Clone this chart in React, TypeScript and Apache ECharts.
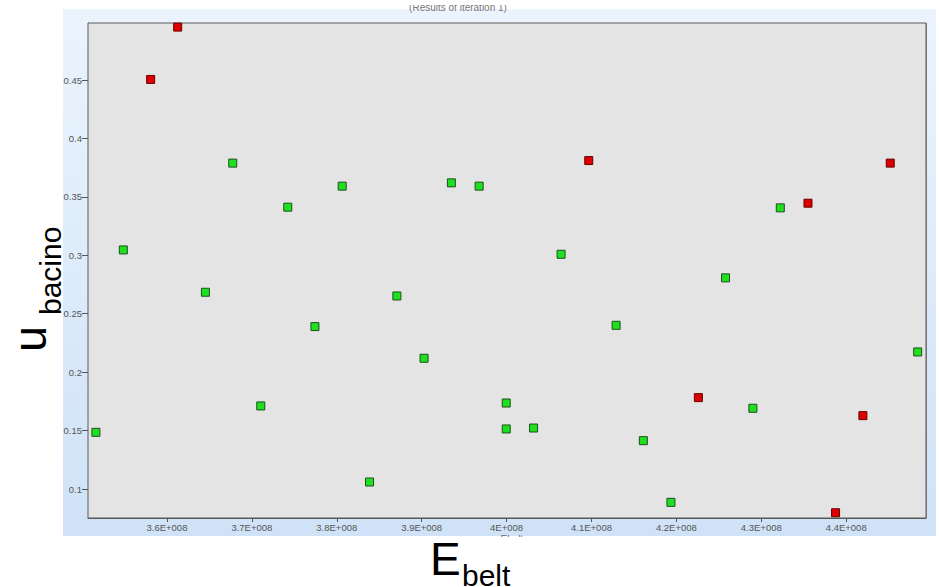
import React, { useEffect, useRef } from "react";
import * as echarts from "echarts";

// Green (feasible) design points: E_belt, u_bacino
const greenE = [
  3.5163e8, 3.5486e8, 3.6453e8, 3.6775e8, 3.7105e8, 3.7423e8, 3.7743e8, 3.8064e8,
  3.8386e8, 3.8708e8, 3.9028e8, 3.935e8, 3.9677e8, 3.9996e8, 3.9996e8, 4.0318e8,
  4.0642e8, 4.129e8, 4.1611e8, 4.1936e8, 4.2579e8, 4.2901e8, 4.3224e8, 4.4842e8,
];
const greenU = [
  0.1485, 0.3046, 0.2684, 0.3789, 0.1711, 0.3412, 0.239, 0.3592,
  0.106, 0.2652, 0.2119, 0.362, 0.3592, 0.1736, 0.1514, 0.1522,
  0.3009, 0.2401, 0.1414, 0.0886, 0.2807, 0.1691, 0.3406, 0.2173,
];
// Red (infeasible) design points
const redE = [3.6126e8, 3.5808e8, 4.0968e8, 4.355e8, 4.4519e8, 4.2259e8, 4.4197e8, 4.3875e8];
const redU = [0.4953, 0.4505, 0.3811, 0.3446, 0.3789, 0.1782, 0.1628, 0.0797];

const xTickValues = [3.6e8, 3.7e8, 3.8e8, 3.9e8, 4.0e8, 4.1e8, 4.2e8, 4.3e8, 4.4e8];
const xTickLabels = ["3.6E+008", "3.7E+008", "3.8E+008", "3.9E+008", "4E+008", "4.1E+008", "4.2E+008", "4.3E+008", "4.4E+008"];
const yTickValues = [0.1, 0.15, 0.2, 0.25, 0.3, 0.35, 0.4, 0.45];
const yTickLabels = ["0.1", "0.15", "0.2", "0.25", "0.3", "0.35", "0.4", "0.45"];

const X_MIN = 3.507e8;
const X_MAX = 4.494e8;
const Y_MIN = 0.0752;
const Y_MAX = 0.4988;

const FONT = "'Liberation Sans', Arial, sans-serif";

function lookup(v: number, vals: number[], labels: string[], tol: number) {
  for (let i = 0; i < vals.length; i++) {
    if (Math.abs(v - vals[i]) < tol) return labels[i];
  }
  return "";
}

export default function App() {
  const ref = useRef<HTMLDivElement>(null);
  useEffect(() => {
    if (!ref.current) return;
    const chart = echarts.init(ref.current, undefined, { renderer: "svg" });
    const green = greenE.map((e, i) => [e, greenU[i]]);
    const red = redE.map((e, i) => [e, redU[i]]);
    chart.setOption({
      animation: false,
      backgroundColor: "#ffffff",
      grid: {
        left: 88,
        right: 13,
        top: 23,
        bottom: 69,
        containLabel: false,
        outerBoundsMode: "none",
        show: true,
        backgroundColor: "#e4e4e4",
        borderColor: "#5a5a5a",
        borderWidth: 1,
        z: 2,
      },
      xAxis: {
        type: "value",
        min: X_MIN,
        max: X_MAX,
        splitNumber: 10,
        axisLine: { show: true, onZero: false, lineStyle: { color: "#555555", width: 1 } },
        axisTick: { show: true, length: 4, lineStyle: { color: "#555555" } },
        axisLabel: {
          color: "#555555",
          fontSize: 9.5,
          fontFamily: FONT,
          margin: 4,
          showMinLabel: false,
          showMaxLabel: false,
          formatter: (v: number) => lookup(v, xTickValues, xTickLabels, 1000),
        },
        splitLine: { show: true, lineStyle: { color: "#8e8e8e", width: 1 } },
      },
      yAxis: {
        type: "value",
        min: Y_MIN,
        max: Y_MAX,
        splitNumber: 8,
        axisLine: { show: true, onZero: false, lineStyle: { color: "#555555", width: 1 } },
        axisTick: { show: true, length: 6, lineStyle: { color: "#555555" } },
        axisLabel: {
          color: "#555555",
          fontSize: 9.5,
          fontFamily: FONT,
          margin: 6,
          showMinLabel: false,
          showMaxLabel: false,
          formatter: (v: number) => lookup(v, yTickValues, yTickLabels, 1e-6),
        },
        splitLine: { show: true, lineStyle: { color: "#8e8e8e", width: 1 } },
      },
      series: [
        {
          name: "feasible",
          type: "scatter",
          data: green,
          symbol: "rect",
          symbolSize: 8,
          itemStyle: { color: "#1fe01f", borderColor: "#1d4f1d", borderWidth: 1, opacity: 1 },
          z: 5,
        },
        {
          name: "infeasible",
          type: "scatter",
          data: red,
          symbol: "rect",
          symbolSize: 8,
          itemStyle: { color: "#dc0000", borderColor: "#6a0000", borderWidth: 1, opacity: 1 },
          z: 5,
        },
      ],
      graphic: [
        {
          type: "rect",
          z: -10,
          silent: true,
          shape: { x: 63, y: 9, width: 873, height: 527 },
          style: {
            fill: new echarts.graphic.LinearGradient(0, 0, 0, 1, [
              { offset: 0, color: "#ebf4fd" },
              { offset: 1, color: "#cfe2f7" },
            ]),
          },
        },
        {
          type: "text",
          z: -5,
          x: 458,
          y: 7,
          style: {
            text: "(Results of iteration 1)",
            fontSize: 10,
            fontFamily: FONT,
            fill: "#777777",
            align: "center",
            verticalAlign: "middle",
          },
        },
        {
          type: "rect",
          z: -4,
          silent: true,
          shape: { x: 390, y: 0, width: 140, height: 5 },
          style: { fill: "#ffffff" },
        },
        {
          type: "text",
          x: 512,
          y: 539,
          style: {
            text: "Ebelt",
            fontSize: 10,
            fontFamily: FONT,
            fill: "#666666",
            align: "center",
            verticalAlign: "middle",
          },
        },
        {
          type: "rect",
          silent: true,
          shape: { x: 490, y: 537, width: 50, height: 10 },
          style: { fill: "#ffffff" },
        },
        {
          type: "text",
          x: 430,
          y: 559,
          style: {
            text: "E",
            fontSize: 46,
            fontFamily: FONT,
            fill: "#000000",
            align: "left",
            verticalAlign: "middle",
          },
        },
        {
          type: "text",
          x: 462,
          y: 575,
          style: {
            text: "belt",
            fontSize: 30,
            fontFamily: FONT,
            fill: "#000000",
            align: "left",
            verticalAlign: "middle",
          },
        },
        {
          type: "text",
          x: 29,
          y: 352,
          rotation: Math.PI / 2,
          style: {
            text: "u",
            fontSize: 47,
            fontFamily: FONT,
            fill: "#000000",
            align: "left",
            verticalAlign: "middle",
          },
        },
        {
          type: "text",
          x: 50,
          y: 315,
          rotation: Math.PI / 2,
          style: {
            text: "bacino",
            fontSize: 30,
            fontFamily: FONT,
            fill: "#000000",
            align: "left",
            verticalAlign: "middle",
          },
        },
      ],
    });
    return () => chart.dispose();
  }, []);
  return (
    <div
      ref={ref}
      style={{ position: "fixed", left: 0, top: 0, width: 939, height: 587, background: "#ffffff" }}
    />
  );
}
